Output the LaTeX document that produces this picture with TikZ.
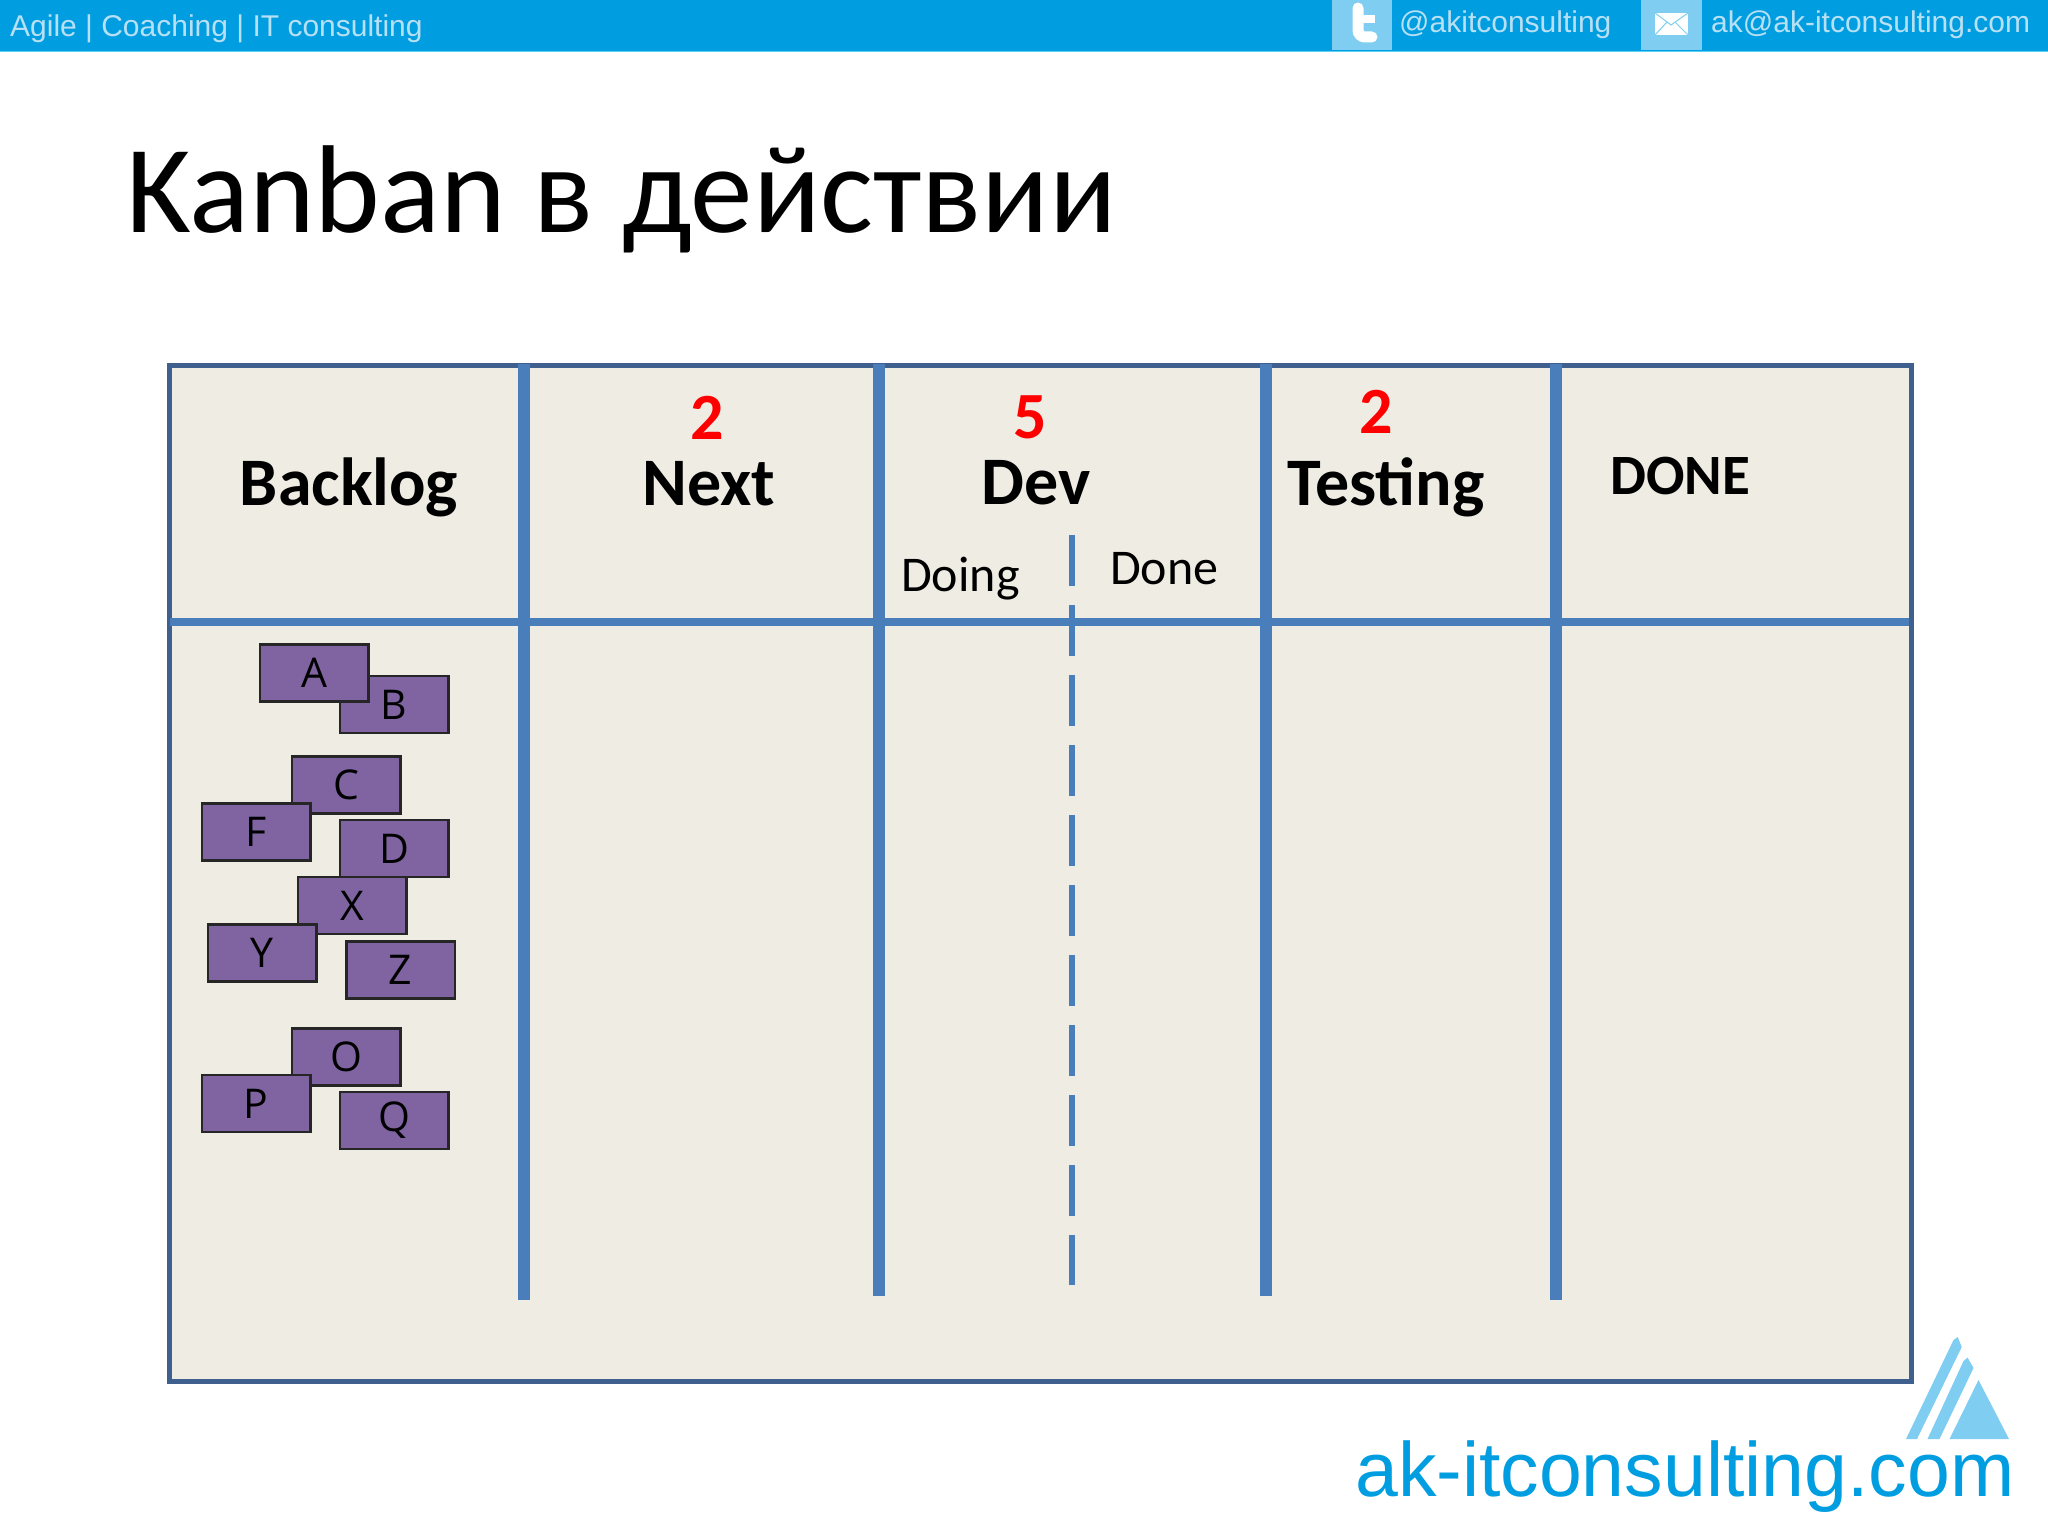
\documentclass[tikz,border=0pt]{standalone}
\usepackage{fontspec}
\setmainfont{Carlito}
\newfontfamily\cardfont{Open Sans}
\newfontfamily\barfont{Liberation Sans}
\definecolor{barblue}{HTML}{009EE0}
\definecolor{barline}{HTML}{5AD2F5}
\definecolor{barpale}{HTML}{B8E0F4}
\definecolor{iconblue}{HTML}{7FCDF0}
\definecolor{boardfill}{HTML}{EEECE3}
\definecolor{boardedge}{HTML}{3F5F8F}
\definecolor{laneblue}{HTML}{4A7EBB}
\definecolor{cardfill}{HTML}{8064A2}
\tikzset{
  card/.style={draw=black!85, line width=2.5pt, fill=cardfill, minimum width=108.5pt, minimum height=57pt, inner sep=0pt, font=\cardfont\fontsize{41}{41}\selectfont},
  head/.style={anchor=base, inner sep=0pt, font=\fontsize{68}{68}\selectfont\bfseries},
  limit/.style={anchor=base, inner sep=0pt, text=red, font=\fontsize{66}{66}\selectfont\bfseries},
  sub/.style={anchor=base west, inner sep=0pt, font=\fontsize{50}{50}\selectfont},
  bartext/.style={anchor=base west, inner sep=0pt, text=barpale, font=\barfont\fontsize{30}{30}\selectfont},
  lane/.style={draw=laneblue, line width=12pt},
}

\begin{document}
\begin{tikzpicture}[x=1pt, y=-1pt]
  \useasboundingbox (0,0) rectangle (2048,1536);
  % top bar
  \fill[barline] (0,51) rectangle (2048,52.5);
  \fill[barblue] (0,0) rectangle (2048,51);
  \fill[iconblue] (1332,0) rectangle (1392,50);
  \fill[iconblue] (1641,0) rectangle (1702,50);
  \draw[white, line width=11pt, line cap=round, rounded corners=7pt] (1358,8) -- (1358,37) -- (1372,37);
  \draw[white, line width=8pt] (1358,19) -- (1375,19);
  \fill[white] (1655,13) rectangle (1688,35);
  \draw[iconblue, line width=1pt] (1655,13) -- (1671,25) -- (1688,13) (1655,35) -- (1667,22) (1688,35) -- (1675,22);
  \node[bartext] (agile) at (10,37) {Agile | Coaching | IT consulting};
  \node[bartext] (twitter) at (1399,33) {@akitconsulting};
  \node[bartext] (mail) at (1711,33) {ak@ak-itconsulting.com};
  % title
  \node[anchor=base west, inner sep=0pt, font=\fontsize{125}{125}\selectfont] (title) at (126,232) {Kanban в действии};
  % board
  \draw[draw=boardedge, fill=boardfill, line width=5pt] (169,365) rectangle (1911,1381);
  \coordinate (rowl) at (170,622);
  \coordinate (rowr) at (1909,622);
  \coordinate (l1t) at (524,364);
  \coordinate (l1b) at (524,1300);
  \coordinate (l2t) at (879,364);
  \coordinate (l2b) at (879,1296);
  \coordinate (l3t) at (1266,364);
  \coordinate (l3b) at (1266,1296);
  \coordinate (l4t) at (1556,364);
  \coordinate (l4b) at (1556,1300);
  \coordinate (dt) at (1072,535);
  \coordinate (db) at (1072,1285);
  \draw[draw=laneblue, line width=8pt] (rowl) -- (rowr);
  \draw[lane] (l1t) -- (l1b);
  \draw[lane] (l2t) -- (l2b);
  \draw[lane] (l3t) -- (l3b);
  \draw[lane] (l4t) -- (l4b);
  \draw[draw=laneblue, line width=6pt, dash pattern=on 51pt off 19pt] (dt) -- (db);
  % headers
  \node[head] (backlog) at (349,505) {Backlog};
  \node[head] (next) at (709,505) {Next};
  \node[head] (dev) at (1036,504) {Dev};
  \node[head] (testing) at (1386,505) {Testing};
  \node[head, font=\fontsize{57}{57}\selectfont\bfseries] (done) at (1680,494) {DONE};
  \node[limit] (nextlimit) at (707,439) {2};
  \node[limit] (devlimit) at (1030,438) {5};
  \node[limit] (testlimit) at (1376,433) {2};
  \node[sub] (doing) at (901,591) {Doing};
  \node[sub] (finished) at (1110,584) {Done};
  % cards
  \node[card] (b) at (394,704.5) {B};
  \node[card] (a) at (314,673) {A};
  \node[card] (c) at (346,785) {C};
  \node[card] (f) at (256,832) {F};
  \node[card] (d) at (394,848.5) {D};
  \node[card] (x) at (352,905.5) {X};
  \node[card] (y) at (262,953) {Y};
  \node[card] (z) at (400.5,970) {Z};
  \node[card] (o) at (346,1057) {O};
  \node[card] (p) at (256,1103.5) {P};
  \node[card] (q) at (394,1120.5) {Q};
  % logo
  \fill[iconblue] (1978.5,1380) -- (2009,1439) -- (1949.5,1439) -- cycle;
  \fill[iconblue] (1953.5,1340) -- (1957.7,1337) -- (1961.7,1347) -- (1917,1439) -- (1906,1439) -- cycle;
  \fill[iconblue] (1963.5,1361) -- (1967.5,1357.5) -- (1973.5,1368) -- (1939.5,1439) -- (1927.5,1439) -- cycle;
  \node[anchor=base west, inner sep=0pt, text=barblue, font=\barfont\fontsize{77}{77}\selectfont] (site) at (1355,1496) {ak-itconsulting.com};
\end{tikzpicture}
\end{document}
